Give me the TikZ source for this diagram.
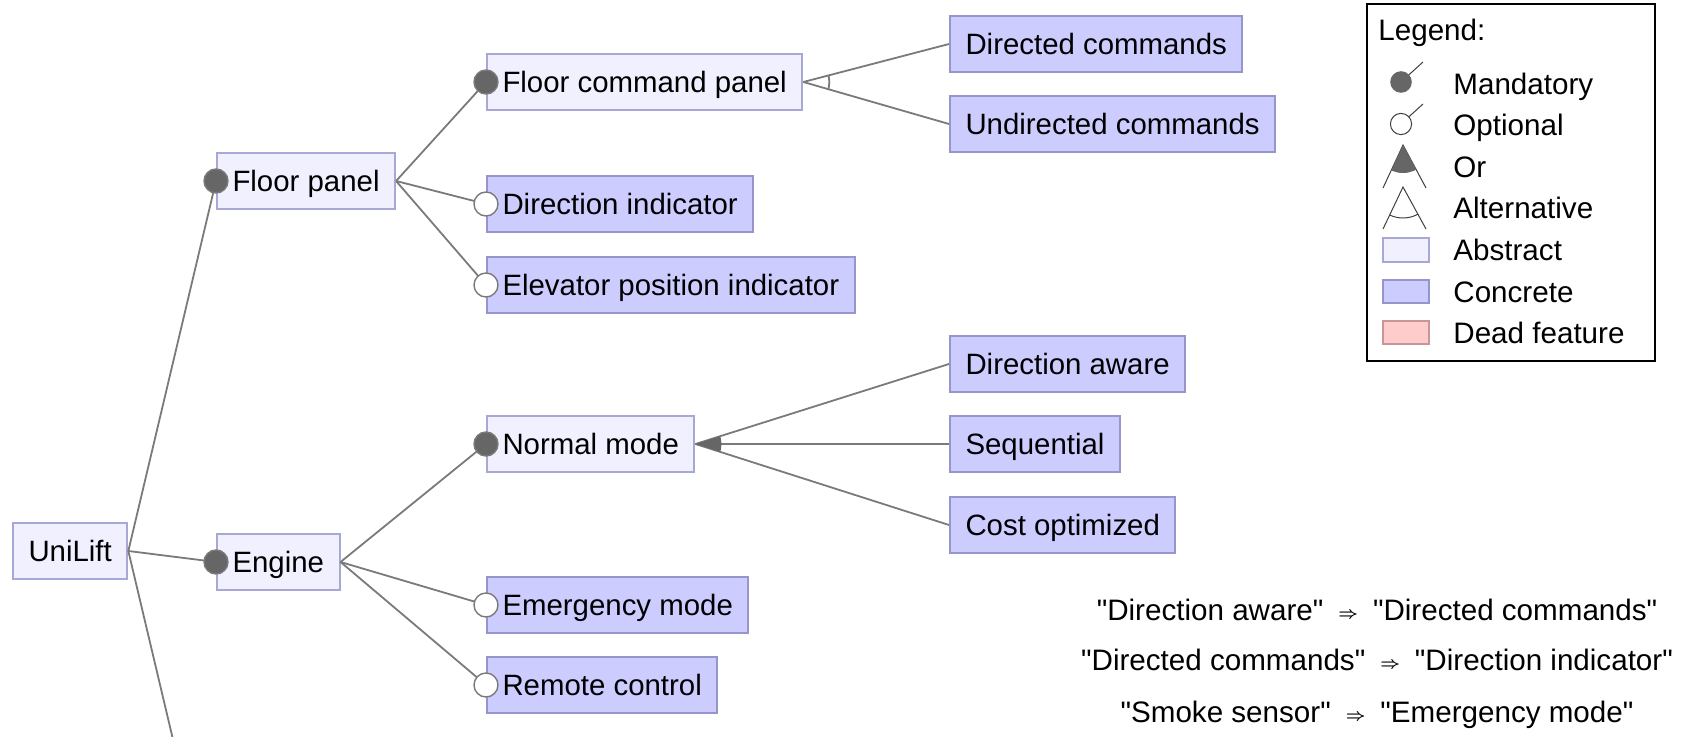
\documentclass[tikz,border=0pt]{standalone}
\usepackage{fontspec}
\setmainfont{Liberation Sans}

\definecolor{abstractfill}{RGB}{240,240,255}
\definecolor{abstractline}{RGB}{168,168,212}
\definecolor{concretefill}{RGB}{204,204,255}
\definecolor{concreteline}{RGB}{150,150,204}
\definecolor{deadfill}{RGB}{255,204,204}
\definecolor{deadline}{RGB}{200,150,150}
\definecolor{edgecol}{RGB}{122,122,122}
\definecolor{mandfill}{RGB}{102,102,102}

\newcommand{\constimpl}{\hspace{7.5pt}\raisebox{1.2pt}{\fontsize{8.5}{10}\selectfont$\boldsymbol{\Rightarrow}$}\hspace{7.5pt}}
\newcommand{\featq}[1]{\textquotedbl#1\textquotedbl}

\tikzset{
  feat/.style={draw, line width=1pt, anchor=west, minimum height=28pt, inner xsep=7.75pt,
    font=\fontsize{14.7}{17}\selectfont, text height=10.6pt, text depth=0pt},
  abstract/.style={feat, fill=abstractfill, draw=abstractline},
  concrete/.style={feat, fill=concretefill, draw=concreteline},
  edge/.style={draw=edgecol, line width=0.9pt},
  mand/.style={circle, fill=mandfill, draw=edgecol, line width=0.7pt, inner sep=0pt, minimum size=12pt},
  opt/.style={mand, fill=white},
  legendtext/.style={anchor=west, font=\fontsize{14.8}{17}\selectfont, text height=10.6pt, text depth=0pt, inner sep=0pt},
  constraint/.style={font=\fontsize{14.8}{17}\selectfont, text height=10.6pt, text depth=0pt, inner sep=0pt},
  symline/.style={draw=black!75, line width=0.5pt}
}

\usepackage{amsmath}

\begin{document}
\begin{tikzpicture}[x=0.5pt, y=-0.5pt]
\useasboundingbox (0,0) rectangle (1693,737);
\clip (0,0) rectangle (1693,737);

% feature boxes
\node[abstract] (unilift) at (12,551) {UniLift};
\node[abstract] (floorpanel) at (216,181) {Floor panel};
\node[abstract] (engine) at (216,562) {Engine};
\coordinate (cabin) at (216,921);
\node[abstract] (cmdpanel) at (486,82) {Floor command panel};
\node[concrete] (dirind) at (486,204) {Direction indicator};
\node[concrete] (posind) at (486,285) {Elevator position indicator};
\node[abstract] (normal) at (486,444) {Normal mode};
\node[concrete] (emergency) at (486,605) {Emergency mode};
\node[concrete] (remote) at (486,685) {Remote control};
\node[concrete] (dircmd) at (949,44) {Directed commands};
\node[concrete] (undircmd) at (949,124) {Undirected commands};
\node[concrete] (diraware) at (949,364) {Direction aware};
\node[concrete] (sequential) at (949,444) {Sequential};
\node[concrete] (costopt) at (949,525) {Cost optimized};

% tree edges
\draw[edge] (unilift.east) -- (floorpanel.west);
\draw[edge] (unilift.east) -- (engine.west);
\draw[edge] (unilift.east) -- (cabin);
\draw[edge] (floorpanel.east) -- (cmdpanel.west);
\draw[edge] (floorpanel.east) -- (dirind.west);
\draw[edge] (floorpanel.east) -- (posind.west);
\draw[edge] (engine.east) -- (normal.west);
\draw[edge] (engine.east) -- (emergency.west);
\draw[edge] (engine.east) -- (remote.west);
\draw[edge] (cmdpanel.east) -- (dircmd.west);
\draw[edge] (cmdpanel.east) -- (undircmd.west);
\draw[edge] (normal.east) -- (diraware.west);
\draw[edge] (normal.east) -- (sequential.west);
\draw[edge] (normal.east) -- (costopt.west);

% alternative group
\begin{scope}
\clip (cmdpanel.east) -- (dircmd.west) -- (undircmd.west) -- cycle;
\draw[edge] (cmdpanel.east) circle[radius=13pt];
\end{scope}
% or group
\begin{scope}
\clip (normal.east) -- (diraware.west) -- (costopt.west) -- cycle;
\fill[mandfill] (normal.east) circle[radius=13pt];
\end{scope}

% mandatory and optional marks
\node[mand] (floorpanel-m) at (floorpanel.west) {};
\node[mand] (engine-m) at (engine.west) {};
\node[mand] (cmdpanel-m) at (cmdpanel.west) {};
\node[opt] (dirind-o) at (dirind.west) {};
\node[opt] (posind-o) at (posind.west) {};
\node[mand] (normal-m) at (normal.west) {};
\node[opt] (emergency-o) at (emergency.west) {};
\node[opt] (remote-o) at (remote.west) {};

% legend
\draw[line width=1.25pt] (1367,4) rectangle (1655,361);
\node[legendtext] (legtitle) at (1378,30) {Legend:};
\draw[symline] (1401,82) -- (1423,62);
\fill[mandfill] (1401,82) circle[radius=5.4pt];
\draw[symline] (1401,124) -- (1423,104);
\draw[symline, fill=white] (1401,124) circle[radius=5.3pt];
\draw[symline] (1383,188) -- (1403,145) -- (1426,188);
\begin{scope}
\clip (1403,145) -- (1383,188) -- (1426,188) -- cycle;
\fill[mandfill] (1403,145) circle[radius=14pt];
\end{scope}
\draw[symline] (1383,229) -- (1403,187) -- (1426,229);
\begin{scope}
\clip (1403,187) -- (1383,229) -- (1426,229) -- cycle;
\draw[symline] (1403,187) circle[radius=15.5pt];
\end{scope}
\draw[fill=abstractfill, draw=abstractline, line width=1pt] (1383,238) rectangle (1429,262);
\draw[fill=concretefill, draw=concreteline, line width=1pt] (1383,280) rectangle (1429,303);
\draw[fill=deadfill, draw=deadline, line width=1pt] (1383,321) rectangle (1429,344);
\node[legendtext] (legmand) at (1453,84) {Mandatory};
\node[legendtext] (legopt) at (1453,125) {Optional};
\node[legendtext] (legor) at (1453,167) {Or};
\node[legendtext] (legalt) at (1453,208) {Alternative};
\node[legendtext] (legabs) at (1453,250) {Abstract};
\node[legendtext] (legcon) at (1453,292) {Concrete};
\node[legendtext] (legdead) at (1453,333) {Dead feature};

% cross-tree constraints
\node[constraint] (cons1) at (1377,610) {\featq{Direction aware}\constimpl\featq{Directed commands}};
\node[constraint] (cons2) at (1377,660) {\featq{Directed commands}\constimpl\featq{Direction indicator}};
\node[constraint] (cons3) at (1377,712) {\featq{Smoke sensor}\constimpl\featq{Emergency mode}};
\end{tikzpicture}
\end{document}
